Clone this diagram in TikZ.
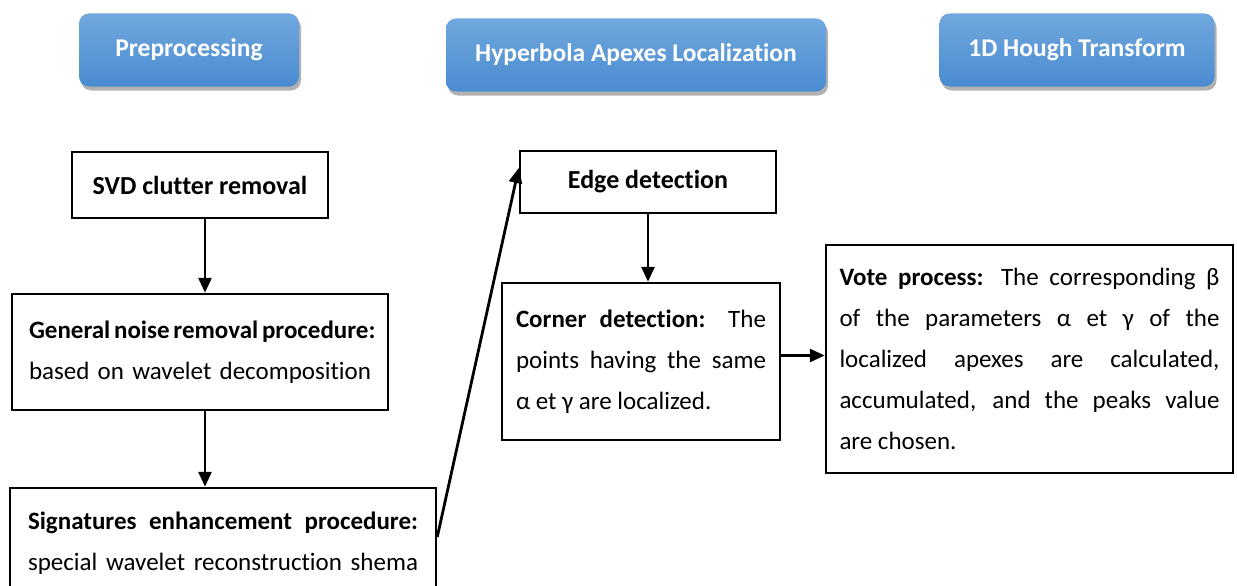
\documentclass[tikz,border=0pt]{standalone}
\usepackage{fontspec}
\setmainfont{Carlito}[Ligatures=NoCommon]
\usetikzlibrary{shadows,arrows.meta}
\definecolor{hdtop}{HTML}{70A8DE}
\definecolor{hdbot}{HTML}{4A8BD0}
\begin{document}
\begin{tikzpicture}[x=1pt,y=-1pt,
  header/.style={rounded corners=10pt, top color=hdtop, bottom color=hdbot,
    draw=none, text=white, font=\fontsize{25.5}{30}\selectfont\bfseries,
    minimum height=73pt, inner sep=0pt,
    drop shadow={shadow xshift=2pt, shadow yshift=-4pt, opacity=0.3, fill=black}},
  stepbox/.style={draw, line width=2.5pt, fill=white, inner sep=0pt,
    font=\fontsize{25}{41}\selectfont, align=left},
  arr/.style={line width=2.8pt, -{Triangle[length=15pt,width=13pt]}}]
\clip (0,0) rectangle (1237,586);
\fill[white] (0,0) rectangle (1237,586);

% stage titles
\node[header, minimum width=220pt] (hpre) at (189,50) {Preprocessing};
\node[header, minimum width=380pt] (hapx) at (636,55) {Hyperbola Apexes Localization};
\node[header, minimum width=275pt] (hhough) at (1077,50) {1D Hough Transform};

% preprocessing chain
\node[stepbox, minimum width=256pt, minimum height=66pt, align=center,
      font=\fontsize{26}{41}\selectfont] (svd) at (200,185)
  {\textbf{SVD clutter removal}};
\node[stepbox, minimum width=376pt, minimum height=116pt] (noise) at (200,352)
  {\makebox[342pt][s]{\textbf{General noise removal procedure:}}\\
   \makebox[342pt][s]{based on wavelet decomposition}};
\node[stepbox, minimum width=426pt, minimum height=110pt] (sig) at (223,543)
  {\makebox[390pt][s]{\textbf{Signatures enhancement procedure:}}\\
   \makebox[390pt][s]{special wavelet reconstruction shema}};

% apex localization
\node[stepbox, minimum width=256pt, minimum height=62pt, align=center,
      font=\fontsize{26}{41}\selectfont] (edge) at (648,182)
  {\textbf{Edge detection}};
\node[stepbox, minimum width=278pt, minimum height=157pt] (corner) at (641,361.5)
  {\makebox[250pt][s]{\textbf{Corner detection:} The}\\
   \makebox[250pt][s]{points having the same}\\
   \makebox[250pt][l]{α et γ are localized.}};

% hough voting
\node[stepbox, minimum width=407pt, minimum height=228pt] (vote) at (1029.5,359)
  {\makebox[380pt][s]{\textbf{Vote process:} The corresponding β}\\
   \makebox[380pt][s]{of the parameters α et γ of the}\\
   \makebox[380pt][s]{localized apexes are calculated,}\\
   \makebox[380pt][s]{accumulated, and the peaks value}\\
   \makebox[380pt][l]{are chosen.}};

% connectors
\draw[arr] ([xshift=5pt]svd.south) -- ([xshift=5pt]svd.south |- noise.north);
\draw[arr] ([xshift=5pt]noise.south) -- ([xshift=5pt]noise.south |- sig.north);
\draw[arr] ([yshift=6pt]sig.east) -- ([yshift=14pt]edge.west);
\draw[arr] (edge.south) -- (edge.south |- corner.north);
\draw[arr] ([yshift=6pt]corner.east) -- ([yshift=6pt]corner.east -| vote.west);
\end{tikzpicture}
\end{document}
